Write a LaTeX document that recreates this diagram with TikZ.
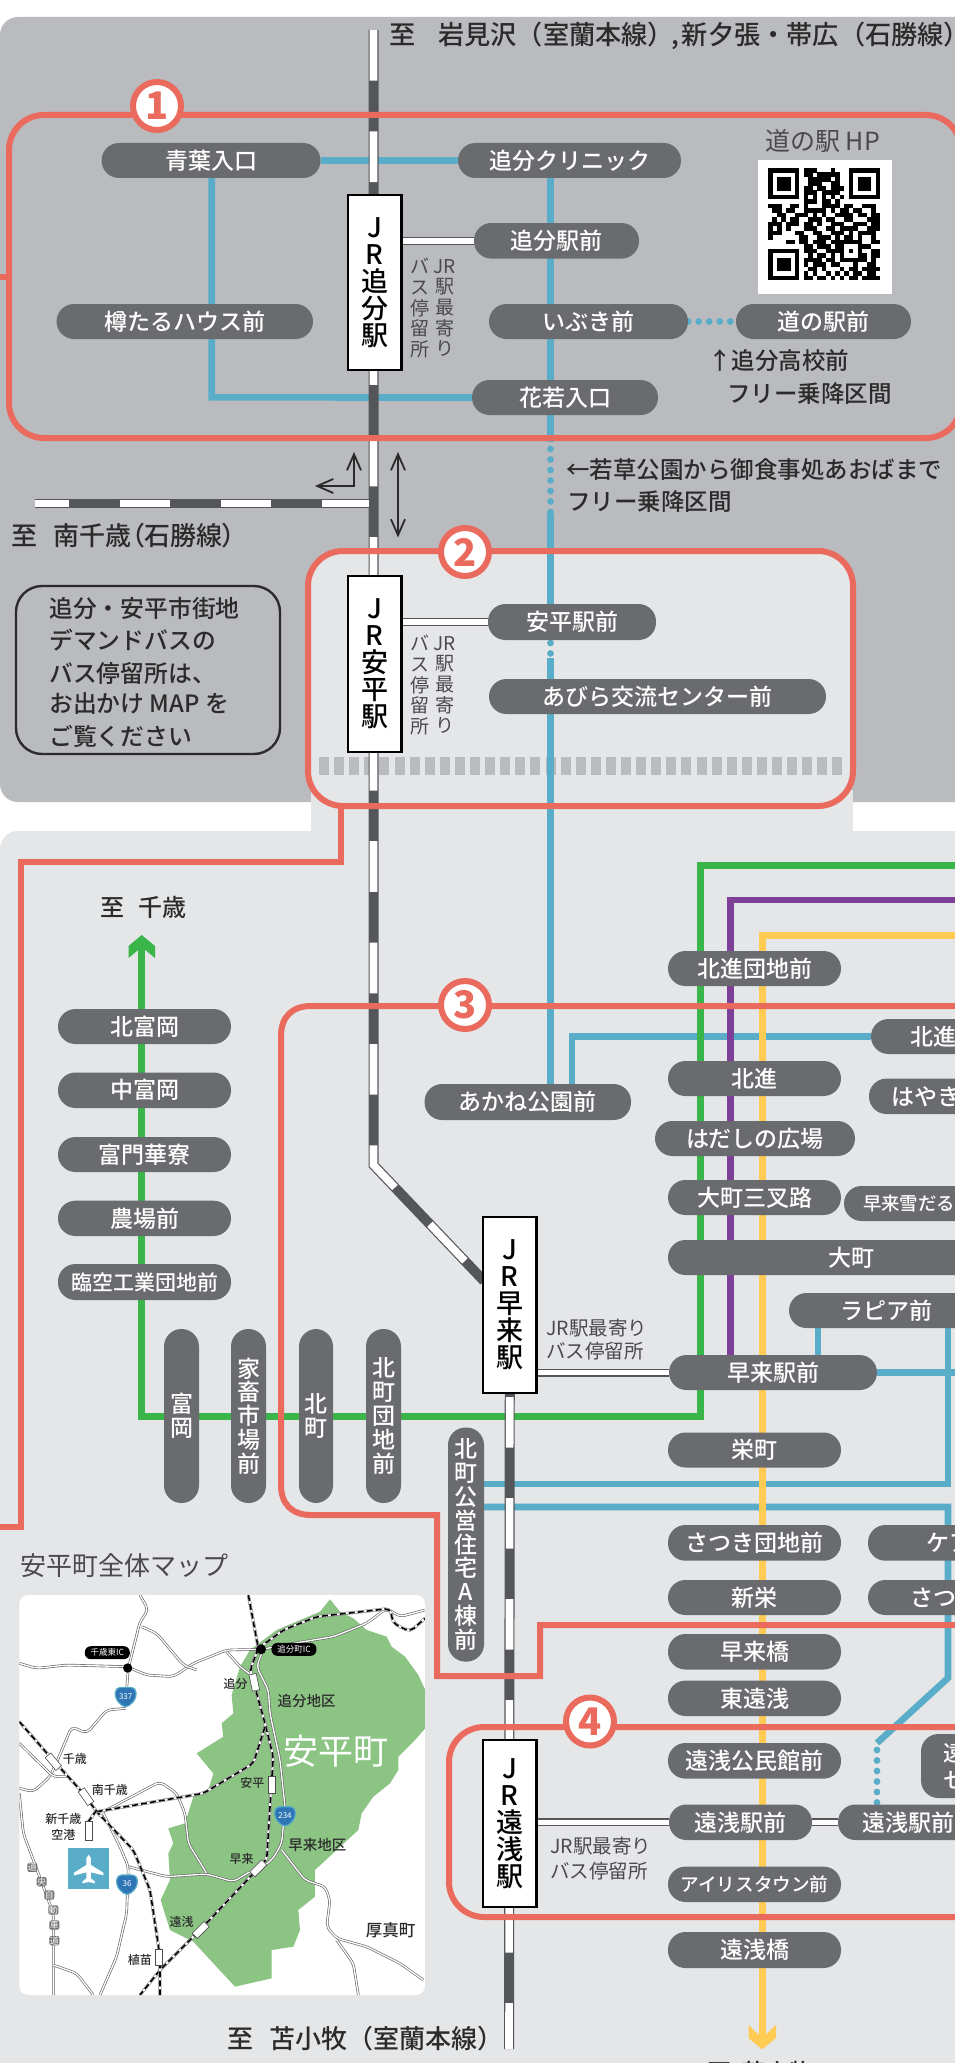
\documentclass[tikz,border=0pt]{standalone}
\usepackage{fontspec}
\usetikzlibrary{arrows.meta}
\setmainfont{Noto Sans CJK JP}
\newfontfamily\jp{Noto Sans CJK JP}
\newfontfamily\jpm{Noto Sans CJK JP Medium}
\newfontfamily\jpp{Noto Sans CJK JP Medium}[RawFeature=+palt]
\newcommand\fs[1]{\fontsize{#1}{#1}\selectfont}
\newcommand\fsl[2]{\fontsize{#1}{#2}\selectfont}
\definecolor{pdark}{HTML}{B9BBBE}
\definecolor{plight}{HTML}{E5E6E8}
\definecolor{pillc}{HTML}{6A6B6F}
\definecolor{bluel}{HTML}{5AADC8}
\definecolor{redl}{HTML}{EA6A5E}
\definecolor{greenl}{HTML}{39B54A}
\definecolor{purplel}{HTML}{7D3F98}
\definecolor{yellowl}{HTML}{FFCB52}
\definecolor{ink}{HTML}{2B2B2B}
\definecolor{railc}{HTML}{55565A}
\definecolor{mapg}{HTML}{8CC484}
\definecolor{soft}{HTML}{4A4A4D}
\definecolor{shieldc}{HTML}{2E75B5}
\pgfdeclarelayer{back}\pgfdeclarelayer{lines}\pgfdeclarelayer{rails}\pgfdeclarelayer{reds}
\pgfsetlayers{back,lines,rails,reds,main}
\tikzset{
  pill/.style={fill=pillc,rounded corners=17.4,inner sep=0,text=white,font=\jpm\fs{23},align=center},
  vpilltext/.style={font=\jpm\fsl{23}{23.8}},
  stnbox/.style={draw=black,fill=white,line width=2.4,inner sep=0,minimum width=53.5,align=center,font=\jpm\fsl{27}{27}},
  conn/.style={line width=8,draw=railc,postaction={draw=white,line width=5.4}},
  railline/.style={line width=10,draw=railc,line join=miter,postaction={draw=white,line width=7.6,dash pattern=on 50.7 off 50.7}},
  bl/.style={draw=bluel,line width=6.6},
  bldot/.style={draw=bluel,line width=6.8,line cap=round,dash pattern=on 0 off 10.5},
  redline/.style={draw=redl,line width=6},
  num/.style={circle,draw=redl,fill=white,line width=6,minimum size=48,inner sep=0,text=redl,font=\bfseries\fs{38}},
  lab/.style={anchor=west,inner sep=0,text=ink,font=\jpm\fs{23.5}},
  sidelab/.style={inner sep=0,text=soft,align=center,font=\jp\fsl{19}{20.6}},
  hlab/.style={anchor=west,inner sep=0,text=soft,font=\jp\fs{19.5}},
  road/.style={draw=black!60,line width=2.6,rounded corners=5,postaction={draw=white,line width=1.3}},
  mrail/.style={draw=black!55,line width=3,rounded corners=5,postaction={draw=white,line width=2},postaction={draw=black,line width=1.6,dash pattern=on 6 off 3}},
  mlab/.style={inner sep=0,text=ink,font=\jpm\fs{12}},
  mlabb/.style={inner sep=0,text=ink,font=\jpm\fs{14.5}},
  ic/.style={fill=black,rounded corners=6,text=white,inner sep=0,minimum width=45,minimum height=13,font=\jp\fs{8.5}},
}
\newcommand\pillaux[7]{\node[pill,minimum width={(#4-#3)*1pt},minimum height={(#6-#5)*1pt},#1] (#2) at ({(#3+#4)/2},{(#5+#6)/2}) {#7};}
\newcommand\mst[3]{\draw[draw=black!70,fill=white,line width=.6,shift={(#1,#2)},rotate=#3] (-11,-25) rectangle (11,25);}
\newcommand\mshield[4]{\begin{scope}[shift={(#1,#2)}]
  \draw[draw=bluel,fill=shieldc,line width=1.2,rounded corners=5] (-31,-30)--(31,-30)--(31,6)--(0,34)--(-31,6)--cycle;
  \node[inner sep=0,text=white,font=\jp\fs{8}] (#4) at (0,-3) {#3};
\end{scope}}
\newcount\qrx \newcount\qry
\def\qrgo#1{\ifx#1e\else\ifx#11\fill[black] ({768+\the\qrx*4.48},{168+\the\qry*4.48}) rectangle +(4.6,4.6);\fi\advance\qrx by 1 \expandafter\qrgo\fi}
\def\qrrow#1{\qrx=0 \qrgo#1e\advance\qry by 1 }
\begin{document}
\begin{tikzpicture}[x=1pt,y=-1pt]
\useasboundingbox (0,0) rectangle (954,2063);

% ---- pills
\pillaux{}{aoba}{101.6}{320.5}{143}{178}{青葉入口}
\pillaux{}{clinic}{458}{681}{143}{178}{追分クリニック}
\pillaux{}{oieki}{474}{639}{223}{258.6}{追分駅前}
\pillaux{}{taru}{56.6}{313}{304}{339}{樽たるハウス前}
\pillaux{}{ibuki}{489}{688}{304}{339}{いぶき前}
\pillaux{}{michi}{736}{911}{304}{339}{道の駅前}
\pillaux{}{hana}{472}{658}{380}{415}{花若入口}
\pillaux{}{abeki}{488}{656}{604}{640}{安平駅前}
\pillaux{}{abira}{489}{826}{679}{714}{あびら交流センター前}
\pillaux{}{kitaD}{668}{841}{951}{986}{北進団地前}
\pillaux{}{kitaR}{871}{995}{1019}{1054}{北進}
\pillaux{}{ktomi}{58}{231}{1009}{1044}{北富岡}
\pillaux{}{ntomi}{58}{231}{1072.5}{1108}{中富岡}
\pillaux{}{tomon}{58}{231}{1137}{1172}{富門華寮}
\pillaux{}{noujo}{58}{231}{1200.7}{1236}{農場前}
\pillaux{font=\jpm\fs{21}}{rinku}{58}{231}{1264}{1300}{臨空工業団地前}
\pillaux{}{akane}{424.6}{631}{1084}{1120}{あかね公園前}
\pillaux{}{hokus}{668}{841}{1061}{1096}{北進}
\pillaux{}{hayaki}{869}{983}{1078.6}{1114}{はやき}
\pillaux{}{hadashi}{655}{855}{1121}{1156}{はだしの広場}
\pillaux{}{sansa}{668}{841}{1180}{1215}{大町三叉路}
\pillaux{font=\jpm\fs{18.4}}{yuki}{844}{974}{1186}{1221}{早来雪だる}
\pillaux{}{omachi}{668}{1034}{1240}{1275}{大町}
\pillaux{}{rapia}{789}{983}{1293}{1328}{ラピア前}
\pillaux{}{hayst}{669}{877}{1355}{1390}{早来駅前}
\pillaux{}{sakae}{668}{841}{1432.5}{1467.5}{栄町}
\pillaux{}{satsuD}{668}{841}{1525}{1560.7}{さつき団地前}
\pillaux{}{kea}{868}{1030}{1525}{1560.7}{ケア}
\pillaux{}{shinei}{668}{841}{1580}{1615}{新栄}
\pillaux{}{satsu}{868}{998}{1580}{1615}{さつ}
\pillaux{}{habashi}{668}{841}{1634}{1669.5}{早来橋}
\pillaux{}{higashi}{668}{841}{1680.6}{1716}{東遠浅}
\pillaux{}{koumin}{668}{841}{1743}{1778.6}{遠浅公民館前}
\pillaux{}{asaL}{669}{812}{1804.5}{1840}{遠浅駅前}
\pillaux{}{asaR}{838}{979}{1804.5}{1840}{遠浅駅前}
\pillaux{font=\jpm\fs{18.6}}{iris}{668}{841}{1866.6}{1902}{アイリスタウン前}
\pillaux{}{asahashi}{668}{841}{1932}{1968}{遠浅橋}
\pillaux{}{asacen}{921}{1040}{1734}{1798}{}
\node[inner sep=0,anchor=west,text=white,font=\jpm\fs{22}] (asacenA) at (943,1753) {遠};
\node[inner sep=0,anchor=west,text=white,font=\jpm\fs{22}] (asacenB) at (943,1780) {セ};
% vertical pills
\pillaux{vpilltext}{tomioka}{164}{199}{1329}{1503}{富\\岡}
\pillaux{vpilltext}{kachiku}{231}{266}{1329}{1503}{家\\畜\\市\\場\\前}
\pillaux{vpilltext}{kitam}{299}{333}{1329}{1503}{北\\町}
\pillaux{vpilltext}{kdanchi}{366}{401}{1329}{1503}{北\\町\\団\\地\\前}
\pillaux{vpilltext}{kkoei}{448}{484}{1427.5}{1661.6}{北\\町\\公\\営\\住\\宅\\A\\棟\\前}

% ---- station boxes
\node[stnbox,minimum height=175] (box1) at (374.75,282.5) {J\\R\\追\\分\\駅};
\node[stnbox,minimum height=176] (box2) at (374.75,664) {J\\R\\安\\平\\駅};
\node[stnbox,minimum height=176] (box3) at (509.75,1305) {J\\R\\早\\来\\駅};
\node[stnbox,minimum height=167] (box4) at (509.75,1823.5) {J\\R\\遠\\浅\\駅};

% ---- numbers
\node[num] (n1) at (157,106) {1};
\node[num] (n2) at (465,552) {2};
\node[num] (n3) at (465,1005) {3};
\node[num] (n4) at (590,1721.5) {4};

% ---- free end points
\coordinate (railtop) at (373.5,30);
\coordinate (railbend) at (373.5,1165);
\coordinate (railend) at (484,1281);
\coordinate (lowrail) at (509,2049);
\coordinate (brstart) at (35,503.6);
\coordinate (brend) at (369,503.6);
\coordinate (gtip) at (141.7,945);
\coordinate (ytip) at (762,2040);
\coordinate (edgeG) at (960,865);
\coordinate (edgeP) at (960,900);
\coordinate (edgeY) at (960,935);

% ---- panels
\begin{pgfonlayer}{back}
\fill[white] (0,0) rectangle (954,2063);
\fill[pdark,rounded corners=18] (0,17) rectangle (985,802);
\fill[plight,rounded corners=18] (0,831) rectangle (985,2120);
\fill[plight] (311,790) rectangle (853,835);
\fill[plight,rounded corners=35] (308,551) rectangle (853,806);
\draw[draw=pdark,line width=18,dash pattern=on 10 off 5.1] (319,766) -- (846,766);
\end{pgfonlayer}

% ---- coloured lines
\begin{pgfonlayer}{lines}
\draw[bl] (aoba.east) -- (clinic.west);
\draw[bl] (211.7,0 |- aoba.south) -- (211.7,397.4) -- (hana.west);
\draw[bl] (550.5,0 |- clinic.south) -- (550.5,442);
\draw[bldot] (550.5,449) -- (550.5,512);
\draw[bl] (550.5,514) -- (550.5,0 |- abeki.south);
\draw[bldot] (550.5,643) -- (550.5,654);
\draw[bl] (550.5,658) -- (550.5,0 |- akane.north);
\draw[bldot] (ibuki.east) -- (michi.west);
\draw[bl] (572,0 |- akane.north) -- (572,1036.5) -- (kitaR.west);
\draw[bl] (818,0 |- rapia.south) -- (818,0 |- hayst.north);
\draw[bl] (hayst.east) -- (960,1372.5);
\draw[bl] (948,0 |- rapia.south) -- (948,1484) -- (kkoei.east |- 0,1484);
\draw[bl] (kkoei.east |- 0,1507) -- (948,1507) -- (948,1678) -- (877,1743);
\draw[bldot] (877,1750) -- (877,0 |- asaR.north);
\draw[draw=greenl,line width=7] (gtip) -- (141.7,1416) -- (700.7,1416) -- (700.7,865) -- (edgeG);
\fill[greenl] (141.7,935) -- (155,946) -- (155,958) -- (141.7,947) -- (128.5,958) -- (128.5,946) -- cycle;
\draw[draw=purplel,line width=6.6] (edgeP) -- (730.5,900) -- (730.5,0 |- hayst.north);
\draw[draw=yellowl,line width=7] (edgeY) -- (762,935) -- (ytip);
\fill[yellowl] (762,2049.3) -- (776,2038) -- (776,2025) -- (762,2038) -- (748.5,2025) -- (748.5,2038) -- cycle;
\end{pgfonlayer}

% ---- rails
\begin{pgfonlayer}{rails}
\draw[railline] (railtop) -- (railbend) -- (railend);
\draw[line width=10,draw=railc,postaction={draw=white,line width=7.6,dash pattern=on 50.5 off 50.5,dash phase=98}] (box3.south) -- (lowrail);
\draw[line width=8.5,draw=railc,postaction={draw=white,line width=6.4,dash pattern=on 50.5 off 50.5,dash phase=16.5}] (brstart) -- (brend);
\draw[conn] (box1.east |- oieki.west) -- (oieki.west);
\draw[conn] (box2.east |- abeki.west) -- (abeki.west);
\draw[conn] (box3.east |- hayst.west) -- (hayst.west);
\draw[conn] (box4.east |- asaL.west) -- (asaL.west);
\draw[conn] (asaL.east) -- (asaR.west);
\end{pgfonlayer}

% ---- red zones
\begin{pgfonlayer}{reds}
\node[draw=redl,line width=6,rounded corners=35,minimum width=952,minimum height=323,inner sep=0] (zone1) at (485,276.5) {};
\node[draw=redl,line width=6,rounded corners=35,minimum width=545,minimum height=255,inner sep=0] (zone2) at (580.5,678.5) {};
\node[draw=redl,line width=6,rounded corners=35,minimum width=700,minimum height=190,inner sep=0] (zone4) at (799,1822) {};
\draw[redline] (zone1.west) -- (0,0 |- zone1.west);
\draw[redline] (340.6,0 |- zone2.south) -- (340.6,862) -- (21,862) -- (21,1527) -- (0,1527);
\draw[redline] (1000,1006) -- (311,1006) .. controls (292,1006) and (281,1017) .. (281,1036) -- (281,1485) .. controls (281,1504) and (292,1515) .. (311,1515) -- (437,1515) -- (437,1676) -- (540,1676) -- (540,1625) -- (1000,1625);
\end{pgfonlayer}

% ---- texts
\node[lab,font=\jpm\fs{26.2}] (tTop) at (389,36) {至\hspace{23pt}岩見沢（室蘭本線）\kern-3pt,\kern3pt 新夕張・帯広（石勝線）};
\node[lab,font=\jpp\fs{26}] (tSouth) at (11,536) {至\hspace{16pt}南千歳（石勝線）};
\node[lab,font=\jpp\fs{24}] (tChitose) at (100,907) {至\hspace{14pt}千歳};
\node[lab,font=\jpm\fs{26}] (tTomako) at (227,2039) {至\hspace{16pt}苫小牧（室蘭本線）};
\node[lab,font=\jpp\fs{24}] (tBottom) at (707,2072) {至\hspace{10pt}苫小牧};
\node[lab,font=\jp\fs{26},text=soft] (tMap) at (20,1566) {安平町全体マップ};
\node[lab,font=\jp\fs{25},text=soft] (tHP) at (765,141) {道の駅 HP};
\node[lab] (tShou) at (708,361) {↑追分高校前};
\node[lab] (tFree1) at (727,394) {フリー乗降区間};
\node[lab] (tWaka) at (566,470) {←若草公園から御食事処あおばまで};
\node[lab] (tFree2) at (567,502) {フリー乗降区間};
\node[sidelab] (jrA1) at (444.6,308) {JR\\駅\\最\\寄\\り};
\node[sidelab] (jrA2) at (420,308) {バ\\ス\\停\\留\\所};
\node[sidelab] (jrB1) at (444.6,685) {JR\\駅\\最\\寄\\り};
\node[sidelab] (jrB2) at (420,685) {バ\\ス\\停\\留\\所};
\node[hlab] (jrC1) at (546,1328) {JR駅最寄り};
\node[hlab] (jrC2) at (546,1351) {バス停留所};
\node[hlab] (jrD1) at (550,1846.5) {JR駅最寄り};
\node[hlab] (jrD2) at (550,1871) {バス停留所};

% ---- info box
\node[draw=ink,line width=2.4,rounded corners=26,minimum width=264,minimum height=168,inner sep=0] (info) at (148,670) {};
\node[lab,font=\jpm\fs{23.8}] (i1) at (49,608) {追分・安平市街地};
\node[lab,font=\jpm\fs{23.8}] (i2) at (49,640) {デマンドバスの};
\node[lab,font=\jpm\fs{23.8}] (i3) at (49,673) {バス停留所は、};
\node[lab,font=\jpm\fs{23.8}] (i4) at (49,704) {お出かけ MAP を};
\node[lab,font=\jpm\fs{23.8}] (i5) at (49,736) {ご覧ください};

% ---- direction arrows
\coordinate (arA) at (398,452);
\coordinate (arB) at (398,537.5);
\coordinate (arC) at (354,452);
\coordinate (arD) at (354,486);
\coordinate (arE) at (315,486);
\draw[line width=1.8,draw=ink,{Straight Barb[length=16pt,width=14pt]}-{Straight Barb[length=16pt,width=14pt]}] (arA) -- (arB);
\draw[line width=1.8,draw=ink,{Straight Barb[length=16pt,width=14pt]}-{Straight Barb[length=16pt,width=14pt]}] (arC) -- (arD) -- (arE);

% ---- QR
\fill[white] (757.7,160) rectangle (891.7,294);
\qrrow{1111111011100010001111111}
\qrrow{1000001011011111001000001}
\qrrow{1011101001111101001011101}
\qrrow{1011101001110011001011101}
\qrrow{1011101011011011101011101}
\qrrow{1000001011101111001000001}
\qrrow{1111111010101010101111111}
\qrrow{0000000011101101000000000}
\qrrow{1110011010001111011001110}
\qrrow{0110110011111010110110010}
\qrrow{0011001110101001111011011}
\qrrow{0101011001110110011000111}
\qrrow{1110111011010011100111011}
\qrrow{1010100011100110111100111}
\qrrow{1110001100110011101011110}
\qrrow{1000000110011101011010010}
\qrrow{0000110110111011111110011}
\qrrow{0000000011011101100011100}
\qrrow{1111111011100111101010011}
\qrrow{1000001001011010100011011}
\qrrow{1011101011110110111111010}
\qrrow{1011101010111011000100110}
\qrrow{1011101001101000101101111}
\qrrow{1000001010100101010110110}
\qrrow{1111111011011010101101111}

% ---- map
\begin{scope}[shift={(0,1580)},scale=1/3]
\fill[white,rounded corners=9] (58,45) rectangle (1275,1245);
\begin{scope}
\clip[rounded corners=9] (58,45) rectangle (1275,1245);
\fill[mapg] (990,58) -- (1020,95) -- (1060,115) -- (1100,150) -- (1160,170) -- (1175,200) -- (1215,230) -- (1255,285) -- (1278,335) -- (1280,440) -- (1245,480) -- (1195,530) -- (1195,570) -- (1170,610) -- (1120,650) -- (1085,700) -- (1075,750) -- (1010,810) -- (945,870) -- (945,950) -- (895,990) -- (900,1050) -- (880,1100) -- (815,1110) -- (815,1195) -- (705,1220) -- (580,1085) -- (510,1050) -- (482,960) -- (510,900) -- (505,820) -- (520,790) -- (505,745) -- (555,730) -- (580,650) -- (625,630) -- (640,580) -- (590,520) -- (670,470) -- (665,430) -- (700,400) -- (695,345) -- (720,260) -- (750,210) -- (830,150) -- (960,95) -- cycle;
\draw[road] (58,250) -- (110,265) -- (200,255) -- (380,260) -- (440,285) -- (520,290) -- (580,250) -- (680,210) -- (785,208) -- (880,190) -- (1000,170) -- (1100,130) -- (1160,85) -- (1200,110) -- (1275,90);
\draw[road] (420,45) -- (445,90) -- (420,125) -- (385,265) -- (378,350);
\draw[road] (378,385) -- (320,390) -- (260,460) -- (215,440) -- (175,535) -- (150,590) -- (100,635) -- (58,625);
\draw[road] (425,140) -- (470,160) -- (550,255) -- (590,270);
\draw[road] (58,490) -- (160,590) -- (200,590);
\draw[road] (680,215) -- (720,260) -- (760,290);
\draw[road] (785,220) -- (770,260) -- (805,330) -- (810,400) -- (840,540) -- (855,680) -- (845,790) -- (820,835) -- (790,860);
\draw[road] (845,810) -- (915,900) -- (975,920) -- (990,960) -- (980,1040) -- (1010,1075) -- (1100,1100) -- (1200,1150) -- (1270,1200);
\draw[road] (1010,1080) -- (1060,1150) -- (1075,1245);
\draw[road] (310,695) -- (480,605) -- (530,640) -- (555,700) -- (565,790) -- (620,880);
\draw[road] (385,860) -- (500,890) -- (620,882) -- (700,905) -- (750,875);
\draw[road] (310,700) -- (360,800) -- (385,860) -- (380,1000) -- (350,1130) -- (300,1245);
\draw[road] (58,640) -- (70,760) -- (160,1000) -- (160,1245);
\draw[road] (160,1155) -- (230,1180) -- (280,1245);
\draw[mrail] (745,45) -- (775,205) -- (750,270) -- (770,340) -- (795,430) -- (820,530) -- (815,600) -- (800,840) -- (770,870) -- (600,1050) -- (480,1170) -- (420,1245);
\draw[mrail] (58,425) -- (150,530) -- (250,640) -- (290,695) -- (400,810) -- (450,930) -- (480,1130) -- (480,1245);
\draw[mrail] (290,695) -- (610,640) -- (760,550) -- (795,440);
\draw[mrail] (775,205) -- (850,150) -- (950,110) -- (1130,90) -- (1170,85) -- (1180,130) -- (1230,155) -- (1275,115);
\draw[mrail] (290,690) -- (265,725);
\mst{763}{307}{12}
\mst{816}{614}{0}
\mst{775}{865}{-45}
\mst{602}{1050}{-45}
\mst{476}{1132}{0}
\mst{160}{545}{40}
\mst{258}{650}{35}
\draw[draw=black!70,fill=white,line width=.6] (256,725) rectangle (278,780);
\fill[bluel] (204,804) rectangle (328,928);
\fill[white] (259,835) -- (266,824) -- (273,835) -- (273,855) -- (310,878) -- (310,886) -- (273,877) -- (273,895) -- (285,905) -- (285,910) -- (266,906) -- (247,910) -- (247,905) -- (259,895) -- (259,877) -- (222,886) -- (222,878) -- (259,855) -- cycle;
\fill[black] (383,264) circle (14);
\fill[black] (783,208) circle (15);
\end{scope}
\node[ic] (icA) at (322,218) {千歳東IC};
\node[ic] (icB) at (882,208) {追分町IC};
\mshield{377}{352}{337}{sA}
\mshield{855}{710}{234}{sB}
\mshield{381}{915}{36}{sC}
\foreach \xx/\yy/\cc [count=\ii] in {97/862/道,125/905/央,148/945/自,160/990/動,163/1035/車,163/1082/道}
  \node[fill=black!55,rounded corners=2,text=white,inner sep=.5,font=\jp\fs{9}] (ex\ii) at (\xx,\yy) {\cc};
\node[mlab] (m1) at (225,537) {千歳};
\node[mlab] (m2) at (330,630) {南千歳};
\node[mlab] (m3) at (190,718) {新千歳};
\node[mlab] (m4) at (190,765) {空港};
\node[mlab] (m5) at (707,313) {追分};
\node[mlab] (m6) at (757,610) {安平};
\node[mlab] (m7) at (725,838) {早来};
\node[mlab] (m8) at (545,1025) {遠浅};
\node[mlab] (m9) at (420,1140) {植苗};
\node[mlabb] (m10) at (920,362) {追分地区};
\node[mlabb] (m11) at (952,795) {早来地区};
\node[mlabb,font=\jpm\fs{16.5}] (m12) at (1172,1052) {厚真町};
\node[inner sep=0,text=white,font=\jp\fs{35}] (m13) at (1008,515) {安平町};
\end{scope}
\end{tikzpicture}
\end{document}
